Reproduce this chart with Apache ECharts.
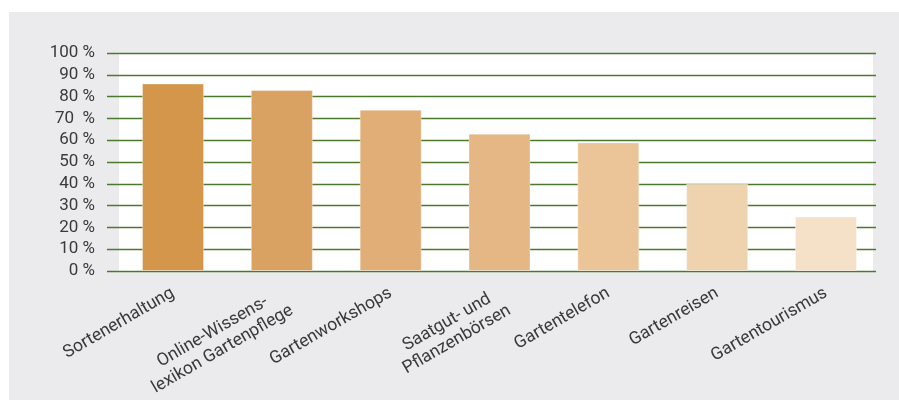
<!DOCTYPE html>
<html>
<head>
<meta charset="utf-8">
<script src="https://cdn.jsdelivr.net/npm/echarts@6/dist/echarts.min.js"></script>
<style>
html,body{margin:0;padding:0;background:#fff;}
#c{width:899px;height:401px;}
</style>
</head>
<body>
<div id="c"></div>
<script>
const categories = ["Sortenerhaltung", "Online-Wissens-\nlexikon Gartenpflege", "Gartenworkshops", "Saatgut- und\nPflanzenbörsen", "Gartentelefon", "Gartenreisen", "Gartentourismus"];
const values = [86, 83, 74, 63, 59, 40, 25];
const barColors = ["#d4964a", "#daa262", "#e0ae76", "#e4b784", "#ebc597", "#efd3af", "#f4e1c7"];
const tickLabels = ["0 %", "10 %", "20 %", "30 %", "40 %", "50 %", "60 %", "70  %", "80 %", "90 %", "100 %"];

const FONT = "Roboto";
const chart = echarts.init(document.getElementById('c'), null, {renderer: 'canvas'});
const hiddenAxis = (grid) => ({type: 'value', gridIndex: grid, show: false, min: 0, max: 1});

chart.setOption({
  animation: false,
  backgroundColor: '#ffffff',
  grid: [
    {left: 9, top: 12, right: 0, bottom: 1, show: true, backgroundColor: '#ebebed', borderWidth: 0, z: 0},
    {left: 119, top: 53, right: 26, bottom: 130, show: true, backgroundColor: '#ffffff', borderWidth: 0, z: 1},
    {left: 107, top: 53, right: 23, bottom: 130, z: 2},
    {left: 118.6, top: 53, right: 18.6, bottom: 130, z: 3}
  ],
  xAxis: [
    hiddenAxis(0),
    hiddenAxis(1),
    hiddenAxis(2),
    {
      type: 'category', gridIndex: 3, data: categories,
      axisLine: {show: false}, axisTick: {show: false},
      axisLabel: {
        rotate: 30, margin: 21, interval: 0,
        formatter: (v) => {
          const lines = v.split('\n');
          if (lines.length > 1) lines.unshift(' ');
          return lines.map(s => '{c|' + s + '}').join('\n');
        },
        rich: {c: {align: 'center', fontFamily: FONT, fontSize: 17.5, color: '#3a3a3a', lineHeight: 20}}
      }
    }
  ],
  yAxis: [
    hiddenAxis(0),
    hiddenAxis(1),
    {
      type: 'value', gridIndex: 2, min: 0, max: 100, interval: 10, z: 5,
      axisLine: {show: false}, axisTick: {show: false},
      splitLine: {show: true, lineStyle: {color: '#4b7a2d', width: 1.3}},
      axisLabel: {
        margin: 12, fontFamily: FONT, fontSize: 17, color: '#3a3a3a',
        formatter: (v) => tickLabels[Math.round(v / 10)]
      }
    },
    {type: 'value', gridIndex: 3, min: 0, max: 100, show: false}
  ],
  series: [{
    type: 'bar', xAxisIndex: 3, yAxisIndex: 3, z: 10,
    barWidth: 62,
    data: values.map((v, i) => ({value: v, itemStyle: {color: barColors[i]}})),
    itemStyle: {borderColor: 'rgba(255,255,255,0.35)', borderWidth: 1}
  }]
});
</script>
</body>
</html>
